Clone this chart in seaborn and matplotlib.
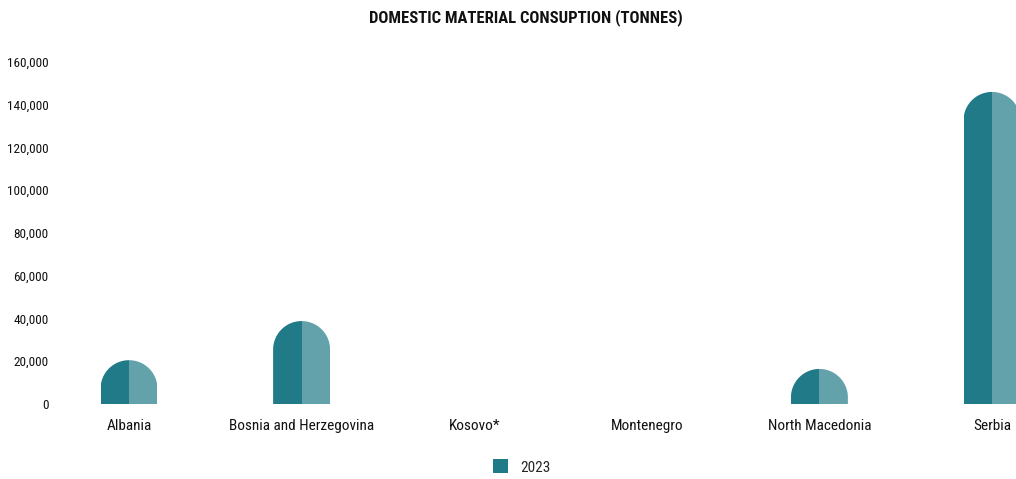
import numpy as np
import pandas as pd
import matplotlib
matplotlib.use("Agg")
import matplotlib.pyplot as plt
import seaborn as sns
from matplotlib.path import Path
from matplotlib.patches import PathPatch, Patch, Rectangle
from matplotlib.ticker import FuncFormatter

countries = ["Albania", "Bosnia and Herzegovina", "Kosovo*", "Montenegro", "North Macedonia", "Serbia"]
values_2023 = [20500, 38800, np.nan, np.nan, 16400, 146000]
series_label = "2023"
yticks = [0, 20000, 40000, 60000, 80000, 100000, 120000, 140000, 160000]

dark = "#217a87"
light = "#63a2ab"

sns.set_theme(style="white")
plt.rcParams["font.family"] = ["Roboto Condensed", "Liberation Sans Narrow", "DejaVu Sans"]
plt.rcParams["font.stretch"] = "condensed"

df = pd.DataFrame({
    "country": countries * 2,
    "half": ["L"] * len(countries) + ["R"] * len(countries),
    "value": values_2023 * 2,
})

W, H = 1016, 479
fig = plt.figure(figsize=(W / 100, H / 100), dpi=100)
ax_left_px, ax_right_px = 57, 1016
ax_bottom_px, ax_top_px = 404, 62
ax = fig.add_axes([ax_left_px / W, (H - ax_bottom_px) / H,
                   (ax_right_px - ax_left_px) / W, (ax_bottom_px - ax_top_px) / H])

bar_w = 0.33
sns.barplot(data=df, x="country", y="value", hue="half", order=countries,
            hue_order=["L", "R"], palette=[dark, light], width=bar_w, gap=0,
            dodge=True, legend=False, ax=ax, errorbar=None, saturation=1,
            linewidth=0, edgecolor="none")

x0 = (ax_left_px - 129) / 172.6
x1 = (ax_right_px - 129) / 172.6
ax.set_xlim(x0, x1)
ax.set_ylim(0, 160000)

bars = [p for p in ax.patches if isinstance(p, Rectangle)]

# rounded top clip
px_per_y = (ax_bottom_px - ax_top_px) / 160000
px_per_x = (ax_right_px - ax_left_px) / (x1 - x0)
rx = bar_w / 2
ry = rx * px_per_x / px_per_y
for i, v in enumerate(values_2023):
    if not np.isfinite(v):
        continue
    yc = max(v - ry, 0)
    t = np.linspace(0, np.pi, 90)
    verts = [(i + rx, 0), (i + rx, yc)]
    verts += [(i + rx * np.cos(a), yc + ry * np.sin(a)) for a in t]
    verts += [(i - rx, yc), (i - rx, 0), (i + rx, 0)]
    codes = [Path.MOVETO] + [Path.LINETO] * (len(verts) - 2) + [Path.CLOSEPOLY]
    clip = PathPatch(Path(verts, codes), transform=ax.transData, facecolor="none", edgecolor="none")
    for p in bars:
        cx = p.get_x() + p.get_width() / 2
        if abs(cx - i) < bar_w and p.get_height() > 0:
            p.set_clip_path(clip)

ax.set_yticks(yticks)
ax.yaxis.set_major_formatter(FuncFormatter(lambda v, _: f"{int(v):,}"))
ax.tick_params(axis="y", labelsize=9.5, length=0, pad=6, colors="#111111")
ax.tick_params(axis="x", labelsize=11, length=0, pad=11, colors="#111111")
ax.set_xlabel("")
ax.set_ylabel("")
for s in ax.spines.values():
    s.set_visible(False)
ax.grid(False)

fig.text(0.5175, 1 - 18 / H, "DOMESTIC MATERIAL CONSUPTION (TONNES)", ha="center", va="center",
         fontsize=12, fontweight="bold", color="#111111")

handles = [Patch(facecolor=dark, edgecolor="none", label=series_label)]
fig.legend(handles=handles, loc="center", bbox_to_anchor=(0.5135, 1 - 467 / H), frameon=False,
           fontsize=11, handlelength=1.0, handleheight=1.0, handletextpad=0.8)

fig.savefig("out.png", dpi=100)
